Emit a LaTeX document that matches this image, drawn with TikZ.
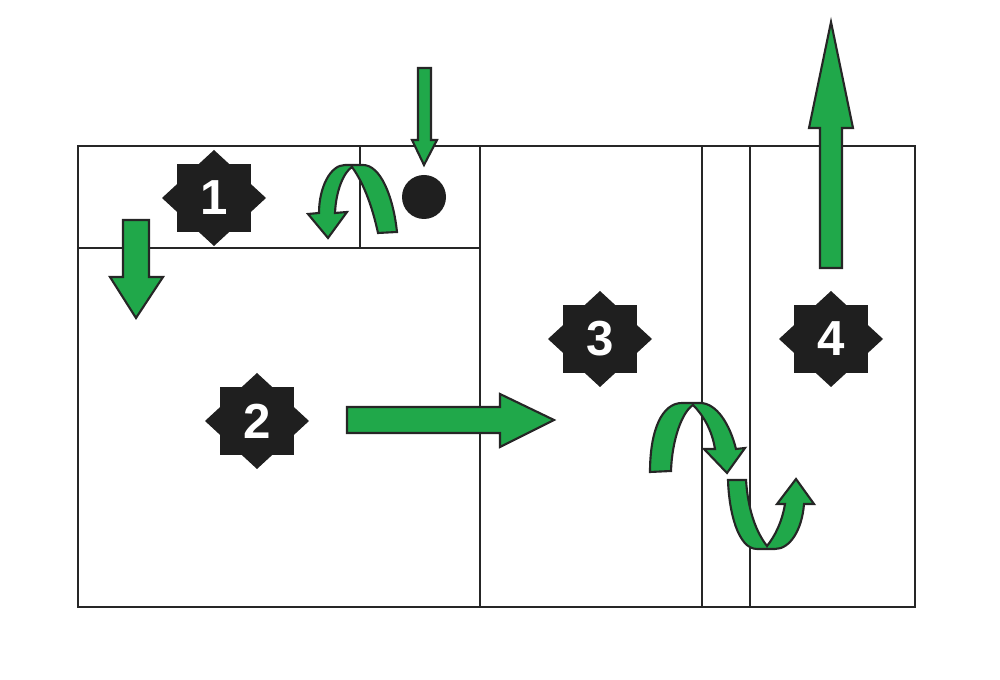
\documentclass[tikz,border=0pt]{standalone}
\usepackage{fontspec}
\setmainfont{Liberation Sans}
\tikzset{
    wall/.style={draw=black!85, line width=0.75pt},
    flow/.style={draw=black!85, fill=flowgreen, line width=0.6pt, line join=miter},
    badge/.style={fill=black!88},
    badgetext/.style={text=white, font=\fontsize{14}{14}\selectfont\bfseries, inner sep=0pt}
}
\definecolor{flowgreen}{RGB}{32,168,74}

\begin{document}
\begin{tikzpicture}[x=0.01cm, y=-0.01cm]
    \useasboundingbox (0, 0) rectangle (1000, 680);

    % outer frame and walls
    \draw[wall] (78, 146) rectangle (915, 607);
    \draw[wall] (78, 248) -- (480, 248);
    \draw[wall] (360, 146) -- (360, 248);
    \foreach \x in {480, 702, 750} {
        \draw[wall] (\x, 146) -- (\x, 607);
    }

    % numbered stars
    \foreach \x/\y/\n in {214/198/1, 257/421/2, 600/339/3, 831/339/4} {
        \fill[badge, shift={(\x, \y)}] (-37, -34) rectangle (37, 34);
        \fill[badge, shift={(\x, \y)}] (-52, 0) -- (0, -48) -- (52, 0) -- (0, 48) -- cycle;
        \node[badgetext] (zone\n) at (\x, \y) {\n};
    }

    % black dot
    \fill[badge] (424, 197) circle (22);

    % straight arrows
    \draw[flow] (418, 68) -- (431, 68) -- (431, 140) -- (437, 140) -- (424, 165)
        -- (412, 140) -- (418, 140) -- cycle;
    \draw[flow] (123, 220) -- (149, 220) -- (149, 277) -- (163, 277) -- (136, 318)
        -- (110, 277) -- (123, 277) -- cycle;
    \draw[flow] (347, 407) -- (500, 407) -- (500, 394) -- (554, 420) -- (500, 447)
        -- (500, 433) -- (347, 433) -- cycle;
    \draw[flow] (820, 268) -- (820, 128) -- (809, 128) -- (831, 22) -- (853, 128)
        -- (842, 128) -- (842, 268) -- cycle;

    % curved arrow in the small room
    \draw[flow] (378, 233) .. controls (373, 210) and (365, 185) .. (352, 167)
        .. controls (344, 172) and (336, 190) .. (335, 213)
        -- (347, 212) -- (328, 238) -- (308, 214) -- (319, 213)
        .. controls (319, 188) and (330, 165) .. (345, 165) -- (363, 165)
        .. controls (380, 165) and (393, 195) .. (397, 232) -- cycle;

    % curved arrow over the first wall
    \draw[flow] (650, 472) .. controls (650, 430) and (662, 403) .. (682, 403) -- (700, 403)
        .. controls (717, 403) and (730, 425) .. (736, 449)
        -- (745, 448) -- (727, 473) -- (704, 449) -- (715, 449)
        .. controls (712, 430) and (703, 415) .. (693, 405)
        .. controls (682, 412) and (672, 440) .. (671, 471) -- cycle;

    % curved arrow under the second wall
    \draw[flow] (728, 480) .. controls (729, 512) and (738, 549) .. (757, 549) -- (775, 549)
        .. controls (790, 549) and (802, 530) .. (804, 504)
        -- (814, 504) -- (796, 479) -- (777, 504) -- (785, 504)
        .. controls (782, 522) and (775, 536) .. (767, 546)
        .. controls (756, 532) and (748, 510) .. (746, 480) -- cycle;
\end{tikzpicture}
\end{document}
